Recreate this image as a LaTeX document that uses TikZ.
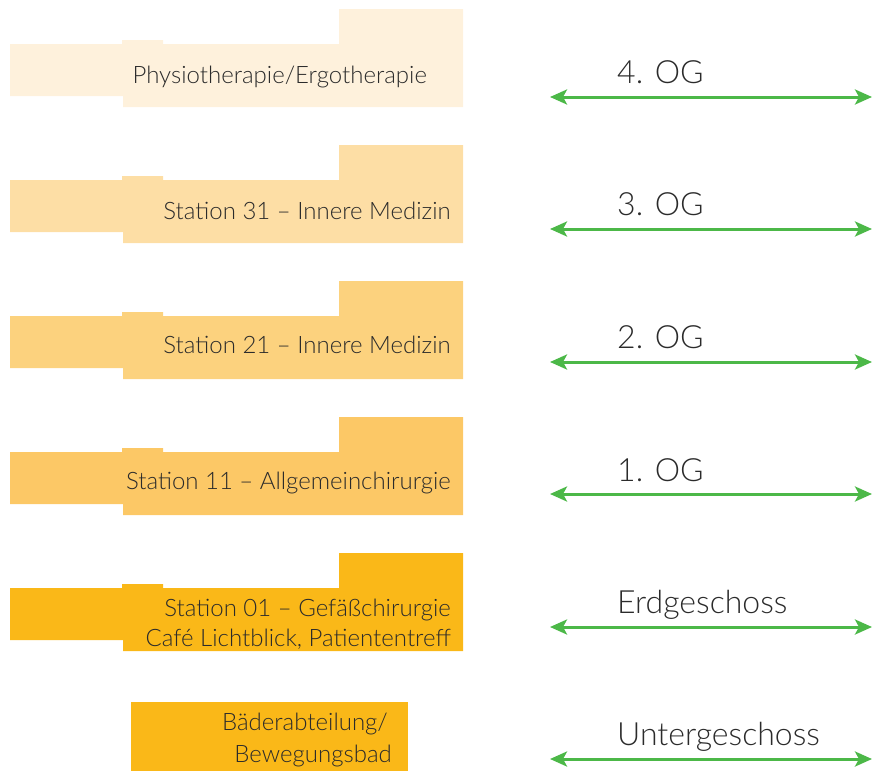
\documentclass[tikz,border=0pt]{standalone}
\usepackage{fontspec}
\setmainfont{Lato}[UprightFont=* Light]
\usetikzlibrary{arrows.meta}

\definecolor{floorfour}{HTML}{FEF1DC}
\definecolor{floorthree}{HTML}{FDDEA5}
\definecolor{floortwo}{HTML}{FCD27E}
\definecolor{floorone}{HTML}{FCC866}
\definecolor{floorzero}{HTML}{FAB818}
\definecolor{levelgreen}{HTML}{4CB848}
\definecolor{textgray}{HTML}{2B2B2B}

\tikzset{
    floorplate/.pic={
        \fill (0,35) -- (112,35) -- (112,31) -- (153,31) -- (153,35) -- (329,35) -- (329,0) -- (453,0) -- (453,98) -- (113,98) -- (113,87) -- (0,87) -- cycle;
    },
    station/.style={anchor=base east, inner sep=0pt, text=textgray, font=\fontsize{24}{30}\selectfont, align=right},
    level/.style={anchor=base west, inner sep=0pt, text=textgray, font=\fontsize{32}{36}\selectfont},
    arrowline/.style={draw=levelgreen, line width=3pt, {Stealth[length=17pt, width=15pt, inset=4pt]}-{Stealth[length=17pt, width=15pt, inset=4pt]}}
}

\begin{document}
\begin{tikzpicture}[x=1pt, y=-1pt]
    \useasboundingbox (0,0) rectangle (872,771);

    \pic[fill=floorfour] at (10,9) {floorplate};
    \pic[fill=floorthree] at (10,145) {floorplate};
    \pic[fill=floortwo] at (10,281) {floorplate};
    \pic[fill=floorone] at (10,417) {floorplate};
    \pic[fill=floorzero] at (10,553) {floorplate};
    \fill[floorzero] (131,702) rectangle (408,771);

    \node (physio) at (427,83) [station] {Physiotherapie/Ergotherapie};
    \node (station31) at (451,219) [station] {Station 31 -- Innere Medizin};
    \node (station21) at (451,353) [station] {Station 21 -- Innere Medizin};
    \node (station11) at (451,489) [station] {Station 11 -- Allgemeinchirurgie};
    \node (station01) at (451,616) [station] {Station 01 -- Gefäßchirurgie};
    \node (cafe) at (451,646) [station] {Café Lichtblick, Patiententreff};
    \node (baeder) at (388,730) [station] {Bäderabteilung/};
    \node (bad) at (392,762) [station] {Bewegungsbad};

    \node (og4) at (617,83) [level] {4. OG};
    \node (og3) at (617,215) [level] {3. OG};
    \node (og2) at (617,348) [level] {2. OG};
    \node (og1) at (617,481) [level] {1. OG};
    \node (eg) at (617,613) [level] {Erdgeschoss};
    \node (ug) at (617,745) [level] {Untergeschoss};

    \coordinate (og4l) at (550,97);  \coordinate (og4r) at (872,97);
    \coordinate (og3l) at (550,229); \coordinate (og3r) at (872,229);
    \coordinate (og2l) at (550,362); \coordinate (og2r) at (872,362);
    \coordinate (og1l) at (550,494); \coordinate (og1r) at (872,494);
    \coordinate (egl) at (550,627);  \coordinate (egr) at (872,627);
    \coordinate (ugl) at (550,759);  \coordinate (ugr) at (872,759);

    \draw [arrowline] (og4l) -- (og4r);
    \draw [arrowline] (og3l) -- (og3r);
    \draw [arrowline] (og2l) -- (og2r);
    \draw [arrowline] (og1l) -- (og1r);
    \draw [arrowline] (egl) -- (egr);
    \draw [arrowline] (ugl) -- (ugr);
\end{tikzpicture}
\end{document}
